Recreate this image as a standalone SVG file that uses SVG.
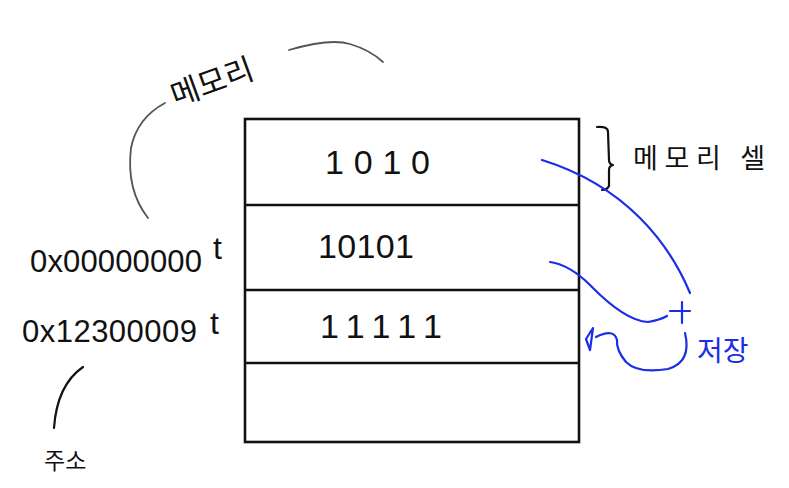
<svg xmlns="http://www.w3.org/2000/svg" width="789" height="488" viewBox="0 0 789 488">
<style>
.hand{font-family:"Liberation Sans","Noto Sans",sans-serif;fill:#111}
.kr{font-family:"Noto Sans CJK KR","Noto Sans",sans-serif;font-weight:400;fill:#111}
.blue{fill:#1a2ee8}
.box{fill:none;stroke:#111;stroke-width:2.6}
.ink{fill:none;stroke:#111;stroke-width:2.2;stroke-linecap:round;stroke-linejoin:round}
.gray{fill:none;stroke:#555;stroke-width:1.8;stroke-linecap:round}
.bl{fill:none;stroke:#1a2ee8;stroke-width:2.2;stroke-linecap:round;stroke-linejoin:round}
</style>
<rect width="789" height="488" fill="#fff"/>
<g id="memory">
<rect class="box" x="245" y="119" width="334" height="323"/>
<line class="box" x1="245" y1="205" x2="579" y2="205"/>
<line class="box" x1="245" y1="290" x2="579" y2="290"/>
<line class="box" x1="245" y1="363" x2="579" y2="363"/>
</g>
<g id="cell1"><text class="hand" x="325" y="174" font-size="34" textLength="105" lengthAdjust="spacing">1010</text></g>
<g id="cell2"><text class="hand" x="318" y="258" font-size="34" textLength="96" lengthAdjust="spacing">10101</text></g>
<g id="cell3"><text class="hand" x="320" y="338" font-size="34" textLength="122" lengthAdjust="spacing">11111</text></g>
<g id="addr1">
<text class="hand" x="30" y="272" font-size="31" textLength="172" lengthAdjust="spacing">0x00000000</text>
<text class="hand" x="213" y="259" font-size="32">t</text>
</g>
<g id="addr2">
<text class="hand" x="22" y="342" font-size="31" textLength="175" lengthAdjust="spacing">0x12300009</text>
<text class="hand" x="210" y="334" font-size="32">t</text>
</g>
<g id="label-memory">
<text class="kr" x="212" y="93" font-size="31" text-anchor="middle" transform="rotate(-20 212 82)">메모리</text>
</g>
<g id="label-cell">
<text class="kr" x="633" y="168" font-size="27" textLength="132" lengthAdjust="spacing">메모리 셀</text>
</g>
<g id="label-addr"><text class="kr" x="44" y="469" font-size="23">주소</text></g>
<g id="label-store"><text class="kr blue" x="697" y="361" font-size="28">저장</text></g>
<g id="connectors">
<path class="gray" d="M289,50 Q330,38 350,44 Q370,50 383,62"/>
<path class="gray" d="M165,103 Q137,118 131,148 Q126,190 148,218"/>
<path class="ink" d="M83,367 Q57,385 54,428"/>
<path class="ink" d="M597,127 Q608,126 608,132 L609,160 Q609,164 613,165 Q609,166 609,170 L609,186 Q607,190 602,190"/>
<path class="bl" d="M542,160 Q600,178 640,218 Q672,250 690,293"/>
<path class="bl" d="M550,262 Q570,265 590,285 Q625,321 648,322 Q660,320 667,316"/>
<path class="bl" d="M670,311 L690,311 M682,302 L682,323"/>
<path class="bl" d="M685,333 Q692,362 668,369 Q638,374 626,362 Q616,350 617,340 Q614,328 596,337"/>
<path class="bl" d="M593,328 L586,339 L590,350 Z"/>
</g>
</svg>
